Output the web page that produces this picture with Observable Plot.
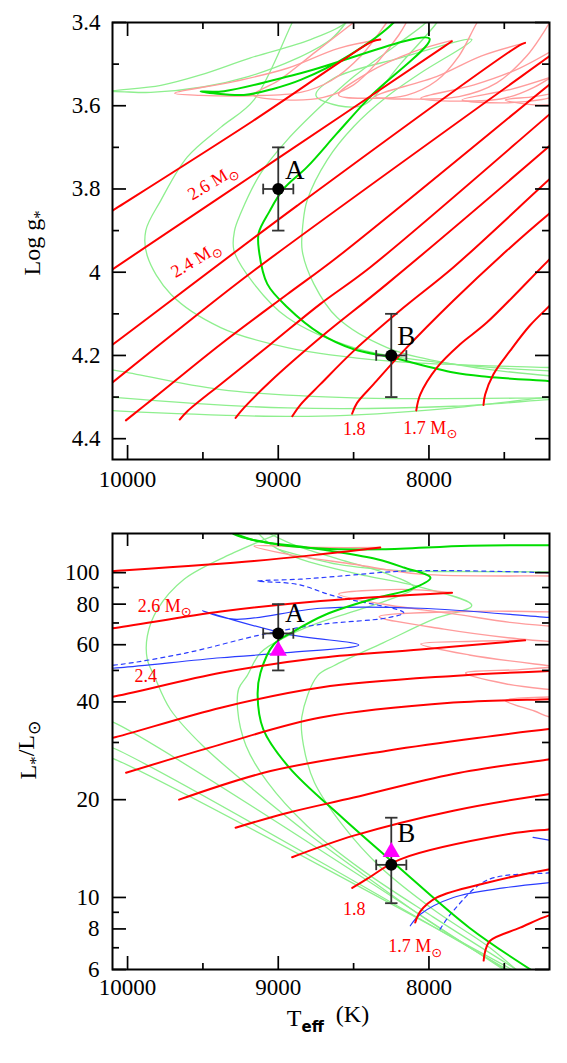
<!DOCTYPE html>
<html><head><meta charset="utf-8">
<script src="https://cdn.jsdelivr.net/npm/d3@7"></script>
<script src="https://cdn.jsdelivr.net/npm/@observablehq/plot@0.6"></script>
<style>
body{margin:0;background:#fff;}
#chart{width:567px;}
svg{display:block;}
</style></head><body><div id="chart"></div>
<script>
// ---------------- ticks ----------------
const xTicksMajor = [10000, 9000, 8000];
const xTicksMinor = [9500, 8500, 7500];
const gTicksMajor = [3.4, 3.6, 3.8, 4, 4.2, 4.4];
const gTicksMinor = [3.5, 3.7, 3.9, 4.1, 4.3];
const lTicksLabeled = [6, 8, 10, 20, 40, 60, 80, 100];
const lTicksMinor = [7, 9, 30, 50, 70, 90];

// ---------------- stars ----------------
const starNames = ["A", "B"];
const starTeff = [9000, 8250];
const starTeffErr = [100, 100];
const starLogg = [3.8, 4.2];
const starLoggErr = [0.1, 0.1];
const starLum = [65, 12.6];
const starLumLo = [50, 9.6];
const starLumHi = [80, 17.6];
const starLumAlt = [57.5, 13.8];
const starLabelTeff = [8890, 8150];
const starLabelLogg = [3.755, 4.153];
const starLabelLum = [75, 15.8];

// ---------------- mass labels ----------------
const massLabelTop = ["2.6 M⊙", "2.4 M⊙", "1.8", "1.7 M⊙"];
const massLabelTopT = [9437, 9548, 8495, 7991];
const massLabelTopG = [3.783, 3.969, 4.378, 4.374];
const massLabelTopRot = [-31, -31, 0, 0];
const massLabelBot = ["2.6 M⊙", "2.4", "1.8", "1.7 M⊙"];
const massLabelBotT = [9753, 9879, 8495, 8091];
const massLabelBotL = [79.0, 47.9, 9.18, 7.07];

// ================= TOP PANEL (Teff, log g) =================
const g28 = [[10200,3.875],[10100,3.852],[9166,3.636],[8569,3.490],[8378,3.446],[8323,3.441]];
const g26 = [[10200,4.017],[10100,3.993],[9000,3.726],[7900,3.458],[7848,3.445]];
const g24 = [[10200,4.200],[10100,4.174],[8874,3.840],[7400,3.455],[7362,3.449]];
const g23 = [[10200,4.295],[10100,4.265],[9603,4.121],[9161,3.996],[7204,3.482],[7100,3.455]];
const g22 = [[10011,4.356],[9824,4.302],[9382,4.173],[8940,4.053],[8609,3.964],[7204,3.55],[7100,3.52]];
const g21 = [[9654,4.354],[9603,4.334],[9382,4.269],[9051,4.173],[8720,4.076],[8389,3.988],[7204,3.622],[7100,3.59]];
const g20 = [[9283,4.350],[9228,4.326],[9051,4.262],[8720,4.157],[8278,4.028],[7204,3.698],[7100,3.665]];
const g19 = [[8907,4.346],[8852,4.318],[8720,4.269],[8499,4.189],[8168,4.085],[7837,3.988],[7204,3.778],[7100,3.745]];
const g18 = [[8510,4.340],[8477,4.314],[8367,4.269],[8168,4.189],[7837,4.068],[7483,3.948],[7204,3.86],[7100,3.83]];
const g17 = [[8084,4.332],[8058,4.294],[7947,4.229],[7793,4.173],[7616,4.121],[7197,3.968],[7100,3.935]];
const g16 = [[7638,4.319],[7627,4.294],[7572,4.245],[7462,4.189],[7330,4.128],[7197,4.080],[7100,4.045]];
const gp1 = [[8323,3.441],[8600,3.462],[8940,3.510],[9294,3.542],[9687,3.570],[9515,3.575],[9184,3.576],[8852,3.568],[8650,3.54],[8450,3.48],[8280,3.40],[8200,3.36]];
const gp7 = [[8500,3.40],[8750,3.47],[9000,3.54],[9166,3.574],[8950,3.586],[8700,3.58],[8500,3.55],[8330,3.49],[8200,3.43],[8150,3.40]];
const gp2 = [[7847,3.443],[8100,3.47],[8400,3.52],[8600,3.574],[8400,3.582],[8150,3.575],[7950,3.54],[7800,3.48],[7680,3.40],[7600,3.36]];
const gp3 = [[7362,3.449],[7650,3.48],[7950,3.53],[8354,3.578],[8100,3.584],[7800,3.578],[7550,3.545],[7350,3.48],[7250,3.43],[7200,3.40]];
const gp4 = [[7100,3.45],[7400,3.51],[7700,3.55],[8055,3.582],[7800,3.589],[7500,3.582],[7300,3.555],[7100,3.51]];
const gp5 = [[7100,3.52],[7450,3.56],[7780,3.586],[7500,3.593],[7250,3.585],[7100,3.57]];
const gp6 = [[7100,3.565],[7300,3.578],[7493,3.586],[7300,3.598],[7100,3.596]];
const gIsoB = [[7100,4.265],[7197,4.262],[7616,4.251],[7837,4.241],[8245,4.205],[8499,4.185],[8720,4.148],[8940,4.084],[9073,4.028],[9128,3.948],[9130,3.906],[9060,3.855],[8965,3.800],[8808,3.747],[8609,3.666],[8389,3.578],[7996,3.439],[8852,3.522],[9360,3.565],[9515,3.566],[9228,3.574],[9029,3.559],[8852,3.538],[8521,3.477],[8234,3.40],[8150,3.36]];
const gIso1 = [[7100,4.23],[7197,4.229],[8278,4.213],[8940,4.181],[9382,4.133],[9713,4.053],[9870,3.96],[9879,3.90],[9780,3.828],[9603,3.723],[9382,3.652],[9161,3.586],[8907,3.40],[8850,3.36]];
const gIso2 = [[7100,4.238],[7197,4.237],[7837,4.221],[8499,4.181],[8940,4.109],[9161,4.028],[9294,3.948],[9290,3.90],[9250,3.859],[9118,3.763],[8940,3.682],[8720,3.602],[8499,3.530],[8200,3.45],[8019,3.40],[7950,3.37]];
const gIso4 = [[7100,4.25],[7197,4.249],[7837,4.221],[8278,4.181],[8609,4.109],[8764,4.028],[8841,3.948],[8835,3.88],[8808,3.827],[8675,3.730],[8499,3.650],[8278,3.578],[8058,3.522],[7715,3.441],[8190,3.485],[8632,3.534],[8750,3.575],[8600,3.60],[8433,3.598],[8190,3.50],[7947,3.40],[7900,3.37]];
const gYoung1 = [[10200,4.23],[10044,4.238],[9382,4.282],[8499,4.302],[7197,4.302],[7100,4.302]];
const gYoung2 = [[10200,4.296],[10044,4.302],[8940,4.326],[7837,4.322],[7197,4.306],[7100,4.305]];
const gYoung3 = [[10200,4.33],[10044,4.334],[8720,4.346],[7837,4.326],[7197,4.30],[7100,4.298]];
const gHook1 = [[10200,3.57],[10100,3.564],[9779,3.551],[9515,3.526],[9184,3.485],[8786,3.441],[8550,3.40],[8500,3.37]];
const gHook2 = [[10200,3.57],[10100,3.566],[9846,3.568],[9500,3.555],[9200,3.53],[8900,3.49],[8650,3.44],[8550,3.40]];

// ================= BOTTOM PANEL (Teff, L/Lsun) =================
const L28 = [[10200,100.3],[10100,101.0],[9161,108.6],[8688,114.3],[8323,119.5]];
const L26 = [[10200,66.8],[10100,67.4],[9381,75.9],[8719,81.8],[7847,86.8]];
const L24 = [[10200,41.0],[10100,41.5],[9381,49.2],[8719,54.7],[8057,58.0],[7362,61.9]];
const L23 = [[10200,30.4],[10100,31.0],[9381,38.4],[8719,44.3],[7838,48.1],[7197,49.8],[7100,50.0]];
const L22 = [[10010,24.2],[9381,29.6],[8719,35.8],[7838,39.8],[7197,40.8],[7100,41.0]];
const L21 = [[9658,20.0],[9051,24.5],[8277,28.3],[7204,33.0],[7100,33.3]];
const L20 = [[9283,16.4],[8941,18.2],[8499,20.3],[7838,24.0],[7207,26.6],[7100,27.0]];
const L19 = [[8908,13.3],[8499,15.5],[7838,18.5],[7207,20.8],[7100,21.1]];
const L18 = [[8509,10.7],[8411,11.4],[8191,13.1],[7462,15.7],[7207,16.2],[7100,16.4]];
const L17 = [[8091,8.37],[8057,9.06],[7947,10.0],[7615,11.1],[7207,12.2],[7100,12.4]];
const L16 = [[7637,6.39],[7626,6.85],[7594,7.36],[7395,8.07],[7207,8.79],[7100,9.0]];
const Lp1 = [[8323,119.5],[8719,119.5],[9161,120.7],[8941,114.0],[8499,106.1],[8057,99.0],[7197,97.7],[7100,97.5]];
const Lp2 = [[7847,86.8],[8191,88.8],[8600,85.9],[8301,79.9],[7859,74.9],[7462,70.3],[7204,68.5],[7100,68.0]];
const Lp2b = [[7100,75.5],[7700,76.0],[8330,73.2],[7900,67.0],[7400,62.5],[7100,61.0]];
const Lp3 = [[7362,61.9],[7700,61.5],[8055,60.3],[7732,55.8],[7204,51.7],[7100,51.0]];
const Lp4 = [[7100,51.5],[7400,50.3],[7757,49.1],[7493,45.5],[7204,43.7],[7100,43.3]];
const Lp5 = [[7100,41.5],[7493,40.4],[7300,37.5],[7204,36.0],[7100,35.5]];
const LIsoB = [[7326,6.0],[7732,8.07],[8210,12.5],[8569,17.5],[8927,25.1],[9100,33.0],[9137,42.0],[9118,49.2],[9030,60.1],[8896,66.0],[8688,74.2],[8344,83.7],[8124,88.8],[7990,96.4],[8167,103.7],[8344,110.0],[8655,116.7],[8853,120.4],[9140,125.1],[9283,131.5],[9350,136]];
const LIsoBx = [[9330,136],[9295,131.5],[9000,122],[8719,118.6],[8311,118.0],[7732,121.0],[7100,121.5]];
const LIso1 = [[7493,6.0],[7971,8.28],[8449,11.9],[8808,15.8],[9166,21.5],[9501,29.3],[9716,37.9],[9823,48.1],[9869,54.1],[9869,63.8],[9802,77.1],[9625,95.5],[9295,115.2],[9006,131.5],[8950,135]];
const LIso2 = [[7420,6.0],[7971,8.7],[8449,12.2],[8808,16.6],[9070,22.6],[9214,29.3],[9270,38.0],[9262,44.0],[9207,48.1],[9118,56.7],[8941,63.8],[8786,68.6],[8500,76.0],[8250,83.0],[8100,90.0],[8300,100.0],[8600,110.0],[8900,122.0],[9100,135]];
const LIso4 = [[7422,6.0],[7613,7.10],[7971,9.18],[8330,12.5],[8569,16.6],[8760,22.6],[8832,29.3],[8844,35.9],[8740,48.1],[8631,51.7],[8301,60.9],[7969,71.9],[7716,79.3],[8080,90.9],[8411,97.7],[8853,110.0],[9050,122],[9150,135]];
const LIsoTop = [[9000,118],[8600,106],[8200,101.5],[7700,100.8],[7100,100.5]];
const LYoung1 = [[10200,35.6],[10100,34.7],[7506,6.0]];
const LYoung2 = [[10200,29.7],[10100,28.9],[7480,6.0]];
const LYoung3 = [[10200,27.5],[10100,26.8],[7450,6.0]];
const LBlue1 = [[10200,50.5],[10045,51.0],[9381,54.7],[8941,56.7],[8466,59.9],[8941,64.7],[9503,76.3],[9295,71.9],[8719,77.7],[8057,77.7],[7197,72.8],[7100,72.5]];
const LBlue2 = [[8124,8.18],[8057,8.88],[7838,10.0],[7505,10.7],[7207,11.1],[7100,11.2]];
const LBlue3 = [[7309,15.3],[7197,15.0]];
const LBlueDash1 = [[10200,51.5],[10045,52.2],[9603,56.7],[9094,64.7],[8719,69.3],[8277,72.6],[8167,75.3],[8631,84.8],[8875,92.1],[9140,94.2],[8853,95.5],[8600,97.5],[8124,101.3],[7197,100.0],[7100,99.8]];
const LBlueDash2 = [[7926,7.99],[7838,9.1],[7615,11.3],[7207,11.9],[7100,12.0]];

// ---------------- helpers ----------------
const W = 567, ML = 112, MR = 18, FW = W - ML - MR, FH = 437;
const SERIF = "Liberation Serif";
const toRows = list => list.flatMap((pts, i) => pts.map(p => ({T: p[0], v: p[1], id: i})));
const lineMark = (list, style) => Plot.line(toRows(list), {x: "T", y: "v", z: "id", curve: "catmull-rom", clip: true, ...style});
const RED = {stroke: "#ff0000", strokeWidth: 2};
const PINK = {stroke: "#ff9c9c", strokeWidth: 1.4};
const LGREEN = {stroke: "#8eef8e", strokeWidth: 1.3};
const BGREEN = {stroke: "#00dd00", strokeWidth: 2};
const BLUE = {stroke: "#2a3cff", strokeWidth: 1.2};
const BLUED = {stroke: "#2a3cff", strokeWidth: 1.2, strokeDasharray: "4,4"};
const hbar = {draw(ctx, size) { const h = Math.sqrt(size) / 2; ctx.moveTo(-h, 0); ctx.lineTo(h, 0); }};
const vbar = {draw(ctx, size) { const h = Math.sqrt(size) / 2; ctx.moveTo(0, -h); ctx.lineTo(0, h); }};

function frameTicks(yMajor, yMinor) {
  const s = {stroke: "black", strokeWidth: 1.7};
  return [
    Plot.ruleX(xTicksMajor, {...s, insetBottom: FH - 14}),
    Plot.ruleX(xTicksMajor, {...s, insetTop: FH - 14}),
    Plot.ruleX(xTicksMinor, {...s, insetBottom: FH - 7}),
    Plot.ruleX(xTicksMinor, {...s, insetTop: FH - 7}),
    Plot.ruleY(yMajor, {...s, insetRight: FW - 14}),
    Plot.ruleY(yMajor, {...s, insetLeft: FW - 14}),
    Plot.ruleY(yMinor, {...s, insetRight: FW - 7}),
    Plot.ruleY(yMinor, {...s, insetLeft: FW - 7}),
    Plot.frame({stroke: "black", strokeWidth: 2})
  ];
}

function starMarks(ys, lo, hi, alt, labelY) {
  const stars = starNames.map((n, i) => ({
    name: n, T: starTeff[i], Tlo: starTeff[i] - starTeffErr[i], Thi: starTeff[i] + starTeffErr[i],
    v: ys[i], lo: lo[i], hi: hi[i], alt: alt ? alt[i] : null, lx: starLabelTeff[i], ly: labelY[i]
  }));
  const ebar = {stroke: "#333", strokeWidth: 1.8};
  const m = [
    Plot.ruleX(stars, {x: "T", y1: "lo", y2: "hi", ...ebar}),
    Plot.ruleY(stars, {y: "v", x1: "Tlo", x2: "Thi", ...ebar}),
    Plot.dot(stars, {x: "T", y: "lo", symbol: hbar, r: 7, ...ebar}),
    Plot.dot(stars, {x: "T", y: "hi", symbol: hbar, r: 7, ...ebar}),
    Plot.dot(stars, {x: "Tlo", y: "v", symbol: vbar, r: 6, ...ebar}),
    Plot.dot(stars, {x: "Thi", y: "v", symbol: vbar, r: 6, ...ebar})
  ];
  if (alt) m.push(Plot.dot(stars, {x: "T", y: "alt", symbol: "triangle", r: 6.4, fill: "#ff00ff"}));
  m.push(Plot.dot(stars, {x: "T", y: "v", r: 6, fill: "black"}));
  m.push(Plot.text(stars, {x: "lx", y: "ly", text: "name", fontSize: 27, fontFamily: SERIF, fill: "black"}));
  return m;
}

function subscriptSun(svg) {
  d3.select(svg).selectAll("text").each(function () {
    const t = this.textContent;
    if (this.childElementCount === 0 && t.includes("⊙")) {
      const [before] = t.split("⊙");
      const sel = d3.select(this);
      sel.text(before);
      sel.append("tspan").attr("font-size", "0.72em").attr("dy", "0.35em").attr("font-family", "DejaVu Sans").text("⊙");
    }
  });
}

// ---------------- top panel ----------------
const topLabels = massLabelTop.map((t, i) => ({text: t, T: massLabelTopT[i], v: massLabelTopG[i], rot: massLabelTopRot[i]}));
const topPlot = Plot.plot({
  width: W, height: 496, marginLeft: ML, marginRight: MR, marginTop: 22, marginBottom: 37,
  style: {fontFamily: SERIF, background: "white"},
  x: {domain: [10100, 7200], label: null},
  y: {domain: [3.4, 4.45], reverse: true, label: null},
  marks: [
    lineMark([gYoung1, gYoung2, gYoung3, gHook1, gHook2, gIso1, gIso2, gIso4], LGREEN),
    lineMark([gp1, gp7, gp2, gp3, gp4, gp5, gp6], PINK),
    lineMark([gIsoB], BGREEN),
    lineMark([g28, g26, g24, g23, g22, g21, g20, g19, g18, g17, g16], RED),
    ...starMarks(starLogg, starLogg.map((g, i) => g - starLoggErr[i]), starLogg.map((g, i) => g + starLoggErr[i]), null, starLabelLogg),
    Plot.text(topLabels, {x: "T", y: "v", text: "text", rotate: "rot", fill: "#ff0000", fontSize: 18, fontFamily: SERIF}),
    Plot.axisX(xTicksMajor, {anchor: "bottom", tickSize: 0, tickPadding: 11, fontSize: 23, fontFamily: SERIF, tickFormat: d => String(d), label: null}),
    Plot.axisY(gTicksMajor, {anchor: "left", tickSize: 0, tickPadding: 12, fontSize: 23, fontFamily: SERIF, tickFormat: d => String(d), label: null}),
    ...frameTicks(gTicksMajor, gTicksMinor)
  ]
});
subscriptSun(topPlot);
{
  const t = d3.select(topPlot).append("text").attr("transform", "translate(40,243) rotate(-90)")
    .attr("text-anchor", "middle").attr("font-family", SERIF).attr("font-size", 24).attr("fill", "black");
  t.append("tspan").text("Log g");
  t.append("tspan").attr("font-size", "0.7em").attr("dy", "0.3em").text("*");
}

// ---------------- bottom panel ----------------
const botLabels = massLabelBot.map((t, i) => ({text: t, T: massLabelBotT[i], v: massLabelBotL[i]}));
const botPlot = Plot.plot({
  width: W, height: 567, marginLeft: ML, marginRight: MR, marginTop: 37, marginBottom: 94,
  style: {fontFamily: SERIF, background: "white"},
  x: {domain: [10100, 7200], label: null},
  y: {type: "log", domain: [6, 132], label: null},
  marks: [
    lineMark([LYoung1, LYoung2, LYoung3, LIso1, LIso2, LIso4, LIsoTop], LGREEN),
    lineMark([Lp1, Lp2, Lp2b, Lp3, Lp4, Lp5], PINK),
    lineMark([LBlue1, LBlue2, LBlue3], BLUE),
    lineMark([LBlueDash1, LBlueDash2], BLUED),
    lineMark([LIsoB, LIsoBx], BGREEN),
    lineMark([L28, L26, L24, L23, L22, L21, L20, L19, L18, L17, L16], RED),
    ...starMarks(starLum, starLumLo, starLumHi, starLumAlt, starLabelLum),
    Plot.text(botLabels, {x: "T", y: "v", text: "text", fill: "#ff0000", fontSize: 18, fontFamily: SERIF}),
    Plot.axisX(xTicksMajor, {anchor: "bottom", tickSize: 0, tickPadding: 9, fontSize: 23, fontFamily: SERIF, tickFormat: d => String(d), label: null}),
    Plot.axisY(lTicksLabeled, {anchor: "left", tickSize: 0, tickPadding: 13, fontSize: 23, fontFamily: SERIF, tickFormat: d => String(d), label: null}),
    ...frameTicks(lTicksLabeled, lTicksMinor)
  ]
});
subscriptSun(botPlot);
{
  const t = d3.select(botPlot).append("text").attr("transform", "translate(36,254) rotate(-90)")
    .attr("text-anchor", "middle").attr("font-family", SERIF).attr("font-size", 24).attr("fill", "black");
  t.append("tspan").text("L");
  t.append("tspan").attr("font-size", "0.7em").attr("dy", "0.3em").text("*");
  t.append("tspan").attr("dy", "-0.3em").text("/L");
  t.append("tspan").attr("font-size", "0.72em").attr("dy", "0.35em").attr("font-family", "DejaVu Sans").text("⊙");
  const x = d3.select(botPlot).append("text").attr("x", 328).attr("y", 530)
    .attr("text-anchor", "middle").attr("font-family", SERIF).attr("font-size", 24).attr("fill", "black");
  x.append("tspan").text("T");
  x.append("tspan").attr("font-size", 15).attr("font-weight", "bold").attr("font-family", "DejaVu Sans").attr("dy", "0.4em").text("eff");
  x.append("tspan").attr("dy", "-0.4em").text("  (K)");
}

document.getElementById("chart").append(topPlot, botPlot);
</script></body></html>
